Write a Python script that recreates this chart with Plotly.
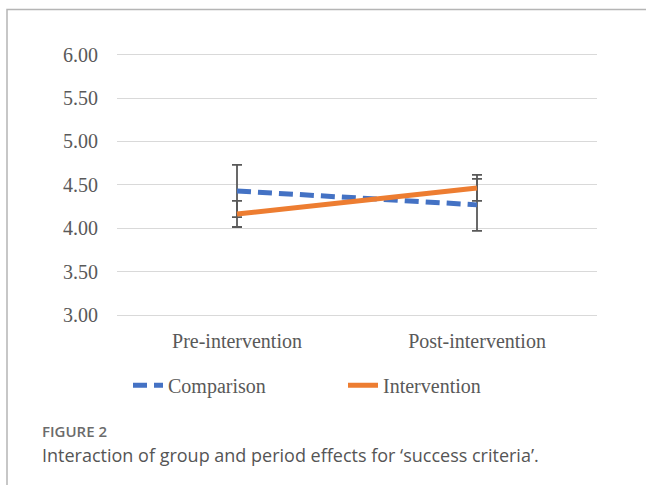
import plotly.graph_objects as go

# Periods on the x axis
periods = ["Pre-intervention", "Post-intervention"]

# Group means for 'success criteria'
comparison_mean = [4.43, 4.27]
intervention_mean = [4.165, 4.465]

# Error bar half-lengths
comparison_err = [0.30, 0.30]
intervention_err = [0.15, 0.15]

# Y axis ticks
y_ticks = [3.0, 3.5, 4.0, 4.5, 5.0, 5.5, 6.0]
y_tick_text = ["3.00", "3.50", "4.00", "4.50", "5.00", "5.50", "6.00"]

BLUE = "#4472C4"
ORANGE = "#ED7D31"
BAR_GREY = "#595959"
SERIF = "Liberation Serif, Times New Roman, serif"
SANS = "Open Sans, Noto Sans, sans-serif"

W, H = 646, 485

# the page is shown slightly squeezed vertically; map a screen row to paper y
V_OFF, V_SCALE = 7.5, 0.969


def paper_y(row):
    return 1 - ((row - V_OFF) / V_SCALE) / H


fig = go.Figure()

fig.add_trace(go.Scatter(
    x=periods, y=comparison_mean, name="Comparison", mode="lines",
    line=dict(color=BLUE, width=5, dash="14px,7px"),
    error_y=dict(type="data", array=comparison_err, visible=True,
                 color=BAR_GREY, thickness=1.8, width=5),
))
fig.add_trace(go.Scatter(
    x=periods, y=intervention_mean, name="Intervention", mode="lines",
    line=dict(color=ORANGE, width=5),
    error_y=dict(type="data", array=intervention_err, visible=True,
                 color=BAR_GREY, thickness=1.8, width=5),
))

# plot area: 6.00 on row 55, 3.00 on row 315
px_left, px_right = 117, 597
y_lo, y_hi = 2.95, 6.05
ppu = 260 / 3.0
top_row = 55 - (y_hi - 6.0) * ppu
bot_row = 315 + (3.0 - y_lo) * ppu

fig.update_layout(
    width=W, height=H,
    margin=dict(l=0, r=0, t=0, b=0),
    paper_bgcolor="white", plot_bgcolor="white",
    showlegend=True,
    legend=dict(orientation="h", x=(180 - 52) / W, xanchor="left",
                y=paper_y(385), yanchor="middle",
                font=dict(family=SERIF, size=20, color=BAR_GREY),
                entrywidth=170, itemwidth=30,
                bgcolor="rgba(0,0,0,0)"),
    xaxis=dict(domain=[px_left / W, px_right / W], range=[-0.5, 1.5],
               showgrid=False, zeroline=False, showline=False,
               ticks="outside", ticklen=3, tickcolor="rgba(0,0,0,0)",
               tickfont=dict(family=SERIF, size=20, color=BAR_GREY)),
    yaxis=dict(domain=[paper_y(bot_row), paper_y(top_row)], range=[y_lo, y_hi],
               tickvals=y_ticks, ticktext=y_tick_text,
               showgrid=True, gridcolor="#d9d9d9", gridwidth=1,
               zeroline=False, showline=False,
               ticks="outside", ticklen=14, tickcolor="rgba(0,0,0,0)",
               tickfont=dict(family=SERIF, size=20, color=BAR_GREY)),
    shapes=[dict(type="rect", xref="paper", yref="paper",
                 x0=7 / W, x1=1.05, y0=-0.05, y1=paper_y(10),
                 line=dict(color="#b5b5b5", width=1.5), layer="below")],
    annotations=[
        dict(text="FIGURE 2", xref="paper", yref="paper",
             x=40 / W, y=paper_y(431), xanchor="left", yanchor="middle",
             showarrow=False,
             font=dict(family=SANS, size=15, color="#6b6b6b", weight=600)),
        dict(text="Interaction of group and period effects for \u2018success criteria\u2019.",
             xref="paper", yref="paper",
             x=40 / W, y=paper_y(455), xanchor="left", yanchor="middle",
             showarrow=False,
             font=dict(family=SANS, size=18, color="#555555")),
    ],
)

fig.write_html("out.html")
